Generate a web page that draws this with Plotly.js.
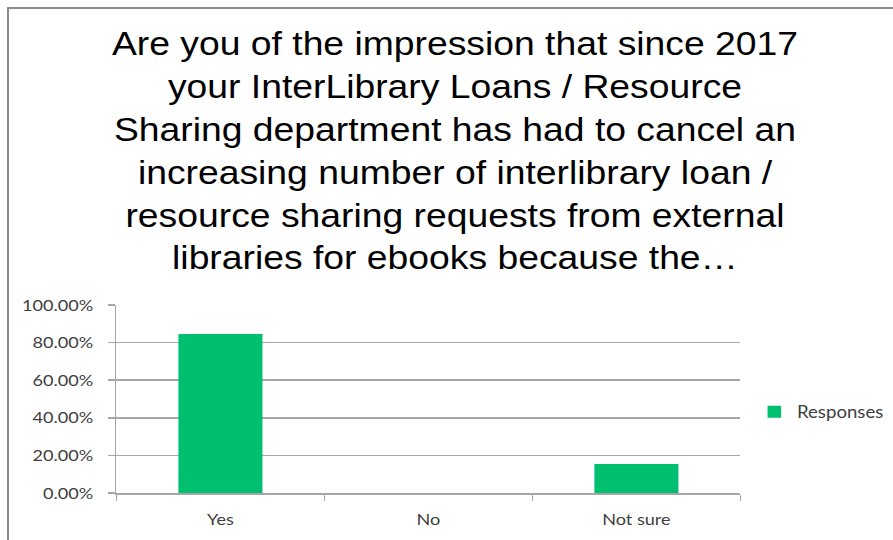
<!DOCTYPE html>
<html>
<head>
<meta charset="utf-8">
<script src="https://cdn.plot.ly/plotly-3.0.1.min.js"></script>
<style>
  html, body { margin: 0; padding: 0; background: #ffffff; overflow: hidden; }
  #chart { position: absolute; left: 0; top: 0; width: 790px; height: 540px;
           transform-origin: 0 0; transform: scaleX(1.1304); }
  #frame { position: absolute; left: 7px; top: 7px; width: 900px; height: 560px;
           border-top: 2px solid #8a8a8a; border-left: 2px solid #8a8a8a; pointer-events: none; }
</style>
</head>
<body>
<div id="chart"></div>
<div id="frame"></div>
<script>
const titleLines = [
  "Are you of the impression that since 2017",
  "your InterLibrary Loans / Resource",
  "Sharing department has had to cancel an",
  "increasing number of interlibrary loan /",
  "resource sharing requests from external",
  "libraries for ebooks because the\u2026"
];
const categories = ["Yes", "No", "Not sure"];
const responses = [0.8462, 0, 0.1538];
const seriesName = "Responses";
const yTicks = [0, 0.2, 0.4, 0.6, 0.8, 1.0];

const axisGray = "#a6a6a6";
const labelFont = { family: "Lato, 'Noto Sans', sans-serif", size: 16, color: "#404040" };
const legendFont = { family: "Lato, 'Noto Sans', sans-serif", size: 16.5, color: "#404040" };

const data = [{
  type: "bar",
  x: categories,
  y: responses,
  name: seriesName,
  marker: { color: "#00BF6F", line: { width: 0 } },
  showlegend: true,
  hoverinfo: "x+y"
}];

const layout = {
  width: 790,
  height: 540,
  paper_bgcolor: "rgba(0,0,0,0)",
  plot_bgcolor: "#ffffff",
  margin: { l: 103, r: 134.5, t: 305, b: 47, pad: 0, autoexpand: false },
  bargap: 0.596,
  showlegend: true,
  title: {
    text: titleLines.join("<br>"),
    font: { family: "'Liberation Sans', Arial, sans-serif", size: 33, color: "#000000" },
    xref: "container", x: 0.5095, xanchor: "center",
    yref: "container", y: 1 - 55 / 540, yanchor: "top"
  },
  xaxis: {
    type: "category",
    tickson: "boundaries",
    ticks: "outside",
    ticklen: 6,
    tickcolor: axisGray,
    tickwidth: 1.4,
    showline: true,
    linecolor: axisGray,
    linewidth: 1.5,
    showgrid: false,
    tickfont: labelFont,
    ticklabelstandoff: 11,
    automargin: false,
    fixedrange: true
  },
  yaxis: {
    range: [0, 1],
    tickvals: yTicks,
    tickformat: ".2%",
    ticks: "outside",
    ticklen: 6,
    tickcolor: axisGray,
    tickwidth: 1.5,
    showline: true,
    linecolor: axisGray,
    linewidth: 1.4,
    showgrid: true,
    gridcolor: axisGray,
    gridwidth: 1.5,
    zeroline: false,
    tickfont: labelFont,
    ticklabelstandoff: 10,
    automargin: false,
    fixedrange: true
  },
  legend: {
    xref: "container",
    x: 0.8418, xanchor: "left",
    yref: "container",
    y: 1 - 412 / 540, yanchor: "middle",
    font: legendFont,
    bgcolor: "rgba(0,0,0,0)",
    itemwidth: 30
  }
};

Plotly.newPlot("chart", data, layout, { displayModeBar: false, staticPlot: true });
</script>
</body>
</html>
